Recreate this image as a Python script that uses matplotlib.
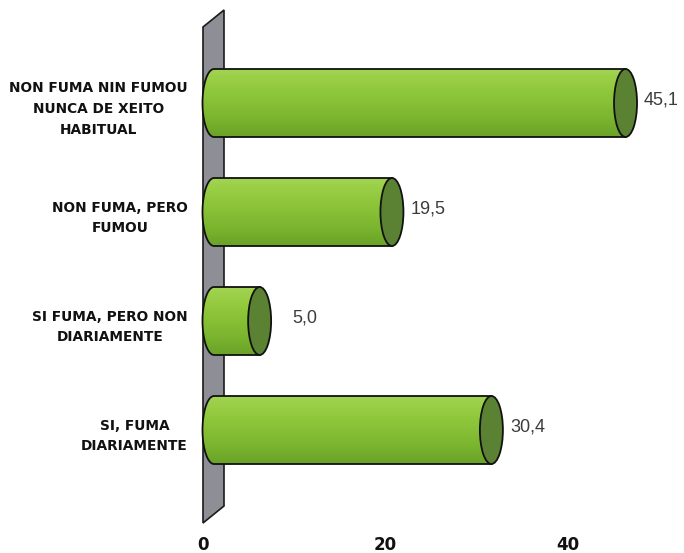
import matplotlib.pyplot as plt
import numpy as np
from matplotlib.patches import Ellipse, Polygon, PathPatch
from matplotlib.path import Path
from matplotlib.colors import LinearSegmentedColormap

categories = ["NON FUMA NIN FUMOU\nNUNCA DE XEITO\nHABITUAL",
              "NON FUMA, PERO\nFUMOU",
              "SI FUMA, PERO NON\nDIARIAMENTE",
              "SI, FUMA\nDIARIAMENTE"]
values = [45.1, 19.5, 5.0, 30.4]
value_labels = ["45,1", "19,5", "5,0", "30,4"]
ticks = [0, 20, 40]

# scale: 9.125 px per unit, zero at pixel 203; bars 109 px apart
W, H = 684, 553
ppu = 9.125
x_lo = -203 / ppu
x_hi = (W - 203) / ppu
bottom_px = 525
y_top = -103 / 109
y_bot = (bottom_px - 103) / 109

fig = plt.figure(figsize=(W / 100, H / 100), dpi=100)
ax = fig.add_axes([0, (H - bottom_px) / H, 1, bottom_px / H])
ax.set_facecolor("white")

# 3d wall behind the bars
depth_x = 21 / ppu
depth_y = 17 / 109
wall_top = (27 - 103) / 109
wall_bot = (523 - 103) / 109
wall = Polygon([(0, wall_top), (0, wall_bot), (depth_x, wall_bot - depth_y),
                (depth_x, wall_top - depth_y)], closed=True,
               facecolor="#8d8e96", edgecolor="#1a1a1a", lw=1.2, zorder=1)
ax.add_patch(wall)

x0 = 11 / ppu          # bar origin (middle of wall depth)
a = 11.5 / ppu         # half-width of the end ellipse
bh = 68 / 109          # bar thickness
b = bh / 2

green = LinearSegmentedColormap.from_list(
    "g", ["#a2d452", "#93ca3e", "#87c036", "#7ab42e", "#6aa227"])
grad = np.linspace(0, 1, 64).reshape(-1, 1)

for i, v in enumerate(values):
    yc = i
    xe = x0 + v
    t = np.linspace(0, np.pi, 40)
    left = np.column_stack([x0 - a * np.sin(t), yc - b * np.cos(t)])
    verts = np.vstack([left, [[xe, yc + b], [xe, yc - b], left[0]]])
    body = Path(verts, closed=True)
    clip = PathPatch(body, facecolor="none", edgecolor="none")
    ax.add_patch(clip)
    im = ax.imshow(grad, cmap=green, aspect="auto", origin="upper",
                   extent=(x0 - a, xe, yc + b, yc - b), zorder=2)
    im.set_clip_path(clip)
    ax.add_patch(PathPatch(body, facecolor="none", edgecolor="#111111",
                           lw=1.3, zorder=3))
    ax.add_patch(Ellipse((xe, yc), 2 * a, bh, facecolor="#5a8232",
                         edgecolor="#111111", lw=1.3, zorder=4))
    lx = x0 + max(v, 6.6) + a + 7 / ppu
    ax.text(lx, yc - 0.03, value_labels[i], ha="left", va="center",
            fontsize=13, color="#3c3c3c", family="Liberation Sans", zorder=5)
    ax.text(-15 / ppu, yc + 0.055, categories[i], ha="right", va="center",
            multialignment="center", fontsize=9.9, fontweight="bold",
            linespacing=1.62, color="#111111")

ax.set_xlim(x_lo, x_hi)
ax.set_ylim(y_bot, y_top)
ax.set_xticks(ticks)
ax.set_xticklabels([str(t) for t in ticks], fontsize=12, fontweight="bold",
                   color="#111111")
ax.tick_params(axis="x", length=0, pad=8)
ax.set_yticks([])
for s in ax.spines.values():
    s.set_visible(False)

fig.savefig("out.png", dpi=100)
